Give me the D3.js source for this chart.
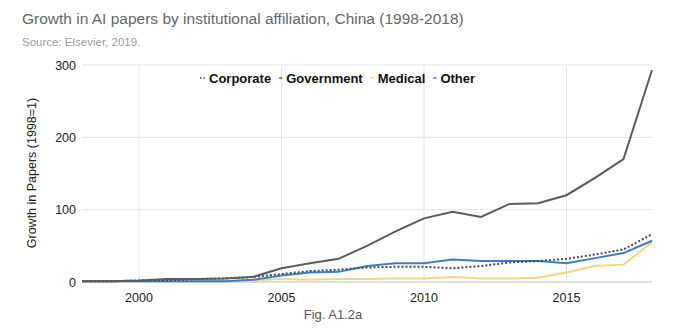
<!DOCTYPE html>
<html><head><meta charset="utf-8">
<script src="https://cdn.jsdelivr.net/npm/d3@7"></script>
<style>body{margin:0;background:#fff;font-family:"Liberation Sans",Arial,sans-serif;}</style>
</head><body><svg id="c" width="674" height="333"></svg>
<script>
const years = d3.range(1998, 2019);
const corporate  = [1,1,2,2,4,5,7,11,15,17,20,21,21,19,22,27,29,32,38,45,66];
const government = [1,1,2,4,4,5,7,19,26,32,50,70,88,97,90,108,109,120,144,170,293];
const medical    = [1,1,1,1,1,1,2,4,3,4,4,5,5,7,5,5,6,13,22,24,55];
const other      = [1,1,1,1,1,1,3,9,13,14,22,26,26,31,29,29,29,26,33,40,57];
const yTicks = [0,100,200,300];
const xTicks = [2000,2005,2010,2015];
const seriesNames = ["Corporate","Government","Medical","Other"];

const svg = d3.select("#c");
const x = d3.scaleLinear().domain([1998,2018]).range([82,652]);
const y = d3.scaleLinear().domain([0,300]).range([282,65]);

svg.append("text").attr("x",22).attr("y",24).attr("fill","#666").attr("font-size",15.5).text("Growth in AI papers by institutional affiliation, China (1998-2018)");
svg.append("text").attr("x",22).attr("y",46).attr("fill","#9a9a9a").attr("font-size",11.5).text("Source: Elsevier, 2019.");

const g = svg.append("g");
g.selectAll(".hg").data(yTicks).join("line").attr("x1",82).attr("x2",652)
 .attr("y1",d=>y(d)).attr("y2",d=>y(d)).attr("stroke",d=>d===0?"#bbb":"#e4e4e4");
g.selectAll(".vg").data(xTicks).join("line").attr("y1",65).attr("y2",282)
 .attr("x1",d=>x(d)).attr("x2",d=>x(d)).attr("stroke","#e4e4e4");
g.selectAll(".yl").data(yTicks).join("text").attr("x",76).attr("y",d=>y(d)+4.5)
 .attr("text-anchor","end").attr("font-size",12.5).attr("fill","#222").text(d=>d);
g.selectAll(".xl").data(xTicks).join("text").attr("x",d=>x(d)).attr("y",302)
 .attr("text-anchor","middle").attr("font-size",12.5).attr("fill","#222").text(d=>d);

svg.append("text").attr("transform","translate(36,173) rotate(-90)").attr("text-anchor","middle")
 .attr("font-size",12.5).attr("fill","#222").text("Growth in Papers (1998=1)");
svg.append("text").attr("x",333).attr("y",319).attr("text-anchor","middle").attr("font-size",13).attr("fill","#555").text("Fig. A1.2a");

const line = d3.line().x((d,i)=>x(years[i])).y(d=>y(d));
const series = [
 {name:"Medical",data:medical,color:"#f5d57e",dash:null,w:2},
 {name:"Other",data:other,color:"#3f7fc1",dash:null,w:2},
 {name:"Corporate",data:corporate,color:"#3d4a63",dash:"2,2",w:2},
 {name:"Government",data:government,color:"#5c5c5c",dash:null,w:2},
];
series.forEach(s=>{
 svg.append("path").attr("d",line(s.data)).attr("fill","none").attr("stroke",s.color)
  .attr("stroke-width",s.w).attr("stroke-dasharray",s.dash);
});

const legendInfo = {Corporate:series[2],Government:series[3],Medical:series[0],Other:series[1]};
let lx = 200;
seriesNames.forEach((n,i)=>{
 const s = legendInfo[n];
 const mw = s.dash ? 5 : 3;
 svg.append("line").attr("x1",lx).attr("x2",lx+mw).attr("y1",78).attr("y2",78).attr("stroke",s.color)
  .attr("stroke-width",1.5).attr("stroke-dasharray",s.dash?"1.5,2":null);
 const t = svg.append("text").attr("x",lx+mw+4).attr("y",82.5).attr("font-size",13).attr("font-weight","bold").attr("fill","#111").text(n);
 lx = lx + mw + 4 + t.node().getComputedTextLength() + 8;
});
</script></body></html>
